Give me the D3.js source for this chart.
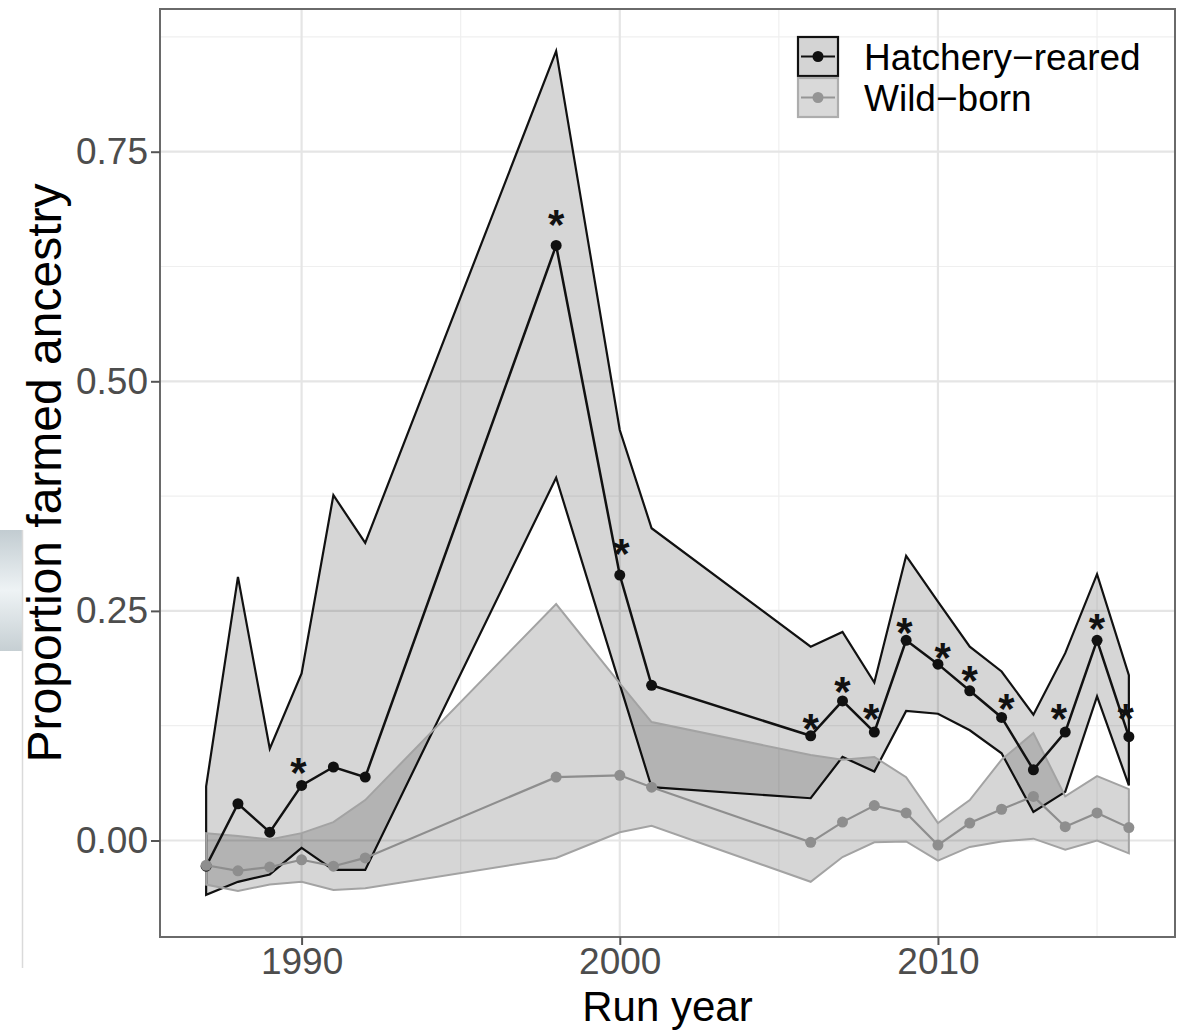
<!DOCTYPE html>
<html><head><meta charset="utf-8">
<script src="https://cdn.jsdelivr.net/npm/d3@7"></script>
<style>
body{margin:0;background:#fff}
text{font-family:"Liberation Sans",Arial,Helvetica,sans-serif}
</style>
</head><body>
<svg id="chart" width="1189" height="1031"></svg>
<script>
// ---- data ----
const hatcheryYears = [1987,1988,1989,1990,1991,1992,1998,2000,2001,2006,2007,2008,2009,2010,2011,2012,2013,2014,2015,2016];
const hatcheryMean  = [-0.028,0.040,0.009,0.060,0.080,0.069,0.648,0.289,0.169,0.114,0.152,0.118,0.218,0.192,0.163,0.134,0.077,0.118,0.218,0.113];
const hatcheryUpper = [0.059,0.287,0.100,0.182,0.376,0.324,0.8595,0.447,0.340,0.211,0.227,0.172,0.310,0.260,0.211,0.184,0.137,0.204,0.290,0.180];
const hatcheryLower = [-0.0592,-0.045,-0.037,-0.008,-0.032,-0.032,0.395,0.170,0.058,0.046,0.091,0.075,0.141,0.138,0.120,0.095,0.031,0.053,0.157,0.060];

const wildYears = [1987,1988,1989,1990,1991,1992,1998,2000,2001,2006,2007,2008,2009,2010,2011,2012,2013,2014,2015,2016];
const wildMean  = [-0.027,-0.033,-0.029,-0.021,-0.028,-0.019,0.069,0.071,0.058,-0.002,0.020,0.038,0.030,-0.005,0.019,0.034,0.048,0.015,0.030,0.014];
const wildUpper = [0.008,0.005,0.001,0.008,0.020,0.044,0.2575,0.171,0.129,0.093,0.088,0.091,0.069,0.019,0.044,0.088,0.117,0.048,0.070,0.056];
const wildLower = [-0.048,-0.055,-0.048,-0.045,-0.054,-0.052,-0.019,0.009,0.016,-0.045,-0.018,-0.002,-0.001,-0.022,-0.007,-0.001,0.002,-0.010,0.000,-0.014];

// significance asterisks (annotation positions, data units)
const starX = [1989.9,1998.0,2000.05,2006.0,2007.0,2007.9,2008.95,2010.15,2011.0,2012.15,2013.8,2015.0,2015.9];
const starY = [0.083,0.680,0.322,0.131,0.172,0.142,0.236,0.209,0.184,0.153,0.142,0.240,0.142];

const xMajorTicks = [1990,2000,2010];
const xMinorTicks = [1995,2005,2015];
const yMajorTicks = [0,0.25,0.5,0.75];
const yMinorTicks = [0.125,0.375,0.625,0.875];
const legendLabels = ["Hatchery\u2212reared","Wild\u2212born"];
const xTitle = "Run year";
const yTitle = "Proportion farmed ancestry";

// ---- layout ----
const svg = d3.select("#chart");
const P = {l:160, r:1175, t:9, b:937};
const x = d3.scaleLinear().domain([1985.55,2017.45]).range([P.l,P.r]);
const y = d3.scaleLinear().domain([-0.1051,0.9054]).range([P.b,P.t]);

svg.append("rect").attr("width",1189).attr("height",1031).attr("fill","#fff");

// screenshot artefact on the left edge
const defs = svg.append("defs");
const grad = defs.append("linearGradient").attr("id","edgeGrad").attr("x1",0).attr("y1",0).attr("x2",0).attr("y2",1);
grad.append("stop").attr("offset","0%").attr("stop-color","#c2ccd1");
grad.append("stop").attr("offset","50%").attr("stop-color","#eef3f5");
grad.append("stop").attr("offset","100%").attr("stop-color","#c6cfd3");
svg.append("rect").attr("x",0).attr("y",530).attr("width",22).attr("height",121).attr("fill","url(#edgeGrad)");
svg.append("line").attr("x1",22.5).attr("x2",22.5).attr("y1",530).attr("y2",968).attr("stroke","#dadada").attr("stroke-width",1.5);

// grid
const g = svg.append("g");
g.selectAll(".ymin").data(yMinorTicks).join("line")
  .attr("x1",P.l).attr("x2",P.r).attr("y1",d=>y(d)).attr("y2",d=>y(d))
  .attr("stroke","#efefef").attr("stroke-width",1.2);
g.selectAll(".xmin").data(xMinorTicks).join("line")
  .attr("y1",P.t).attr("y2",P.b).attr("x1",d=>x(d)).attr("x2",d=>x(d))
  .attr("stroke","#efefef").attr("stroke-width",1.2);
g.selectAll(".ymaj").data(yMajorTicks).join("line")
  .attr("x1",P.l).attr("x2",P.r).attr("y1",d=>y(d)).attr("y2",d=>y(d))
  .attr("stroke","#e5e5e5").attr("stroke-width",2.2);
g.selectAll(".xmaj").data(xMajorTicks).join("line")
  .attr("y1",P.t).attr("y2",P.b).attr("x1",d=>x(d)).attr("x2",d=>x(d))
  .attr("stroke","#e5e5e5").attr("stroke-width",2.2);

// series
const hatch = hatcheryYears.map((yr,i)=>({yr,m:hatcheryMean[i],u:hatcheryUpper[i],l:hatcheryLower[i]}));
const wild = wildYears.map((yr,i)=>({yr,m:wildMean[i],u:wildUpper[i],l:wildLower[i]}));
const area = d3.area().x(d=>x(d.yr)).y0(d=>y(d.l)).y1(d=>y(d.u));
const line = d3.line().x(d=>x(d.yr)).y(d=>y(d.m));

svg.append("path").attr("d",area(hatch)+"Z").attr("fill","#000").attr("fill-opacity",0.16)
  .attr("stroke","#111").attr("stroke-width",2.2).attr("stroke-linejoin","miter");
svg.append("path").attr("d",area(wild)+"Z").attr("fill","#000").attr("fill-opacity",0.16)
  .attr("stroke","#a3a3a3").attr("stroke-width",2);

svg.append("path").attr("d",line(hatch)).attr("fill","none").attr("stroke","#111").attr("stroke-width",2.5);
svg.selectAll(".hp").data(hatch).join("circle").attr("cx",d=>x(d.yr)).attr("cy",d=>y(d.m)).attr("r",5.5).attr("fill","#111");
svg.append("path").attr("d",line(wild)).attr("fill","none").attr("stroke","#8e8e8e").attr("stroke-width",2.2);
svg.selectAll(".wp").data(wild).join("circle").attr("cx",d=>x(d.yr)).attr("cy",d=>y(d.m)).attr("r",5.5).attr("fill","#8e8e8e");

// asterisks
svg.selectAll(".star").data(starX.map((s,i)=>({s,v:starY[i]}))).join("text")
  .attr("x",d=>x(d.s)).attr("y",d=>y(d.v)+23).attr("text-anchor","middle")
  .attr("font-size",42).attr("font-weight","bold").attr("fill","#111").text("*");

// panel border
svg.append("rect").attr("x",P.l).attr("y",P.t).attr("width",P.r-P.l).attr("height",P.b-P.t)
  .attr("fill","none").attr("stroke","#6a6a6a").attr("stroke-width",2);

// axes
const xa = svg.append("g").attr("transform",`translate(0,${P.b})`)
  .call(d3.axisBottom(x).tickValues(xMajorTicks).tickFormat(d3.format("d")).tickSize(8).tickPadding(3));
const ya = svg.append("g").attr("transform",`translate(${P.l},0)`)
  .call(d3.axisLeft(y).tickValues(yMajorTicks).tickFormat(d3.format(".2f")).tickSize(9).tickPadding(3));
[xa,ya].forEach(a=>{
  a.select(".domain").remove();
  a.selectAll(".tick line").attr("stroke","#555").attr("stroke-width",2);
  a.selectAll(".tick text").attr("font-size",37).attr("fill","#4d4d4d")
    .attr("font-family","'Liberation Sans',Arial,Helvetica,sans-serif");
});

// titles
svg.append("text").attr("x",(P.l+P.r)/2).attr("y",1021).attr("text-anchor","middle")
  .attr("font-size",42).attr("fill","#000").text(xTitle);
svg.append("text").attr("transform",`translate(61,${(P.t+P.b)/2}) rotate(-90)`).attr("text-anchor","middle")
  .attr("font-size",48).attr("fill","#000").text(yTitle);

// legend
const leg = svg.append("g");
const keys = [
  {fill:"#d4d4d4", stroke:"#111", line:"#111", y:37},
  {fill:"#d9d9d9", stroke:"#adadad", line:"#959595", y:78}
];
keys.forEach((k,i)=>{
  leg.append("rect").attr("x",798).attr("y",k.y).attr("width",40).attr("height",39)
    .attr("fill",k.fill).attr("stroke",k.stroke).attr("stroke-width",2.2);
  leg.append("line").attr("x1",801).attr("x2",835).attr("y1",k.y+19.5).attr("y2",k.y+19.5)
    .attr("stroke",k.line).attr("stroke-width",2.2);
  leg.append("circle").attr("cx",818).attr("cy",k.y+19.5).attr("r",5.5).attr("fill",k.line);
  leg.append("text").attr("x",864).attr("y",k.y+33).attr("font-size",37).attr("fill","#000").text(legendLabels[i]);
});
</script>
</body></html>
